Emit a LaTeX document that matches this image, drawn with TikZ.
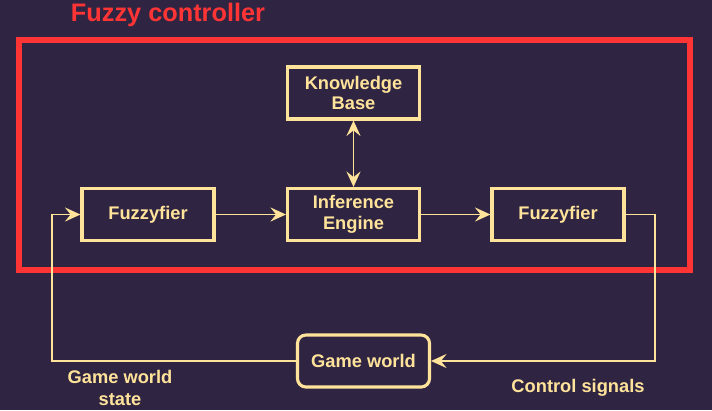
\documentclass[tikz,border=0pt]{standalone}
\usepackage{fontspec}
\setmainfont{Liberation Sans}
\usetikzlibrary{arrows.meta}
\usetikzlibrary{positioning}
\definecolor{mbg}{HTML}{2F2542}
\definecolor{mgold}{HTML}{FFE39A}
\definecolor{mred}{HTML}{FF3535}
\tikzset{block/.style = {draw=mgold, line width=2.2pt, text=mgold, font=\bfseries\fontsize{13}{14.5}\selectfont,
                         minimum width=3.3cm, minimum height=1.3cm, align=center, inner sep=0pt}}
\tikzset{flow/.style = {draw=mgold, line width=1.4pt, -{Stealth[length=11pt, width=10pt, inset=4pt]}}}
\tikzset{tag/.style = {text=mgold, font=\bfseries\fontsize{13}{15}\selectfont, align=center}}

\begin{document}
\begin{tikzpicture}[x=0.025cm, y=-0.025cm]
      \useasboundingbox [fill=mbg] (0, 0) rectangle (712, 410);

      \node [text=mred, font=\bfseries\fontsize{18}{20}\selectfont] (title) at (168, 15) {Fuzzy controller};
      \draw [mred, line width=3.6pt] (19, 40) rectangle (690, 270);

      \node [block] (kb) at (353.5, 93) {Knowledge\\Base};
      \node [block] (engine) at (353.5, 214.5) {Inference\\Engine};
      \node [block] (fuzz) at (148, 214.5) {Fuzzyfier};
      \node [block] (defuzz) at (558, 214.5) {Fuzzyfier};
      \node [block, rounded corners=6pt] (world) at (363.5, 361) {Game world};

      \draw [flow] (fuzz) -- (engine);
      \draw [flow] (engine) -- (defuzz);
      \draw [flow, {Stealth[length=11pt, width=10pt, inset=4pt]}-{Stealth[length=11pt, width=10pt, inset=4pt]}] (kb) -- (engine);

      \draw [flow] (world.west) -| (52, 214.5) -- (fuzz.west);
      \draw [flow] (defuzz.east) -| (655, 361) -- (world.east);

      \node [tag] (state) at (120, 388) {Game world\\state};
      \node [tag] (signals) at (578, 388) {Control signals};
    \end{tikzpicture}
\end{document}
